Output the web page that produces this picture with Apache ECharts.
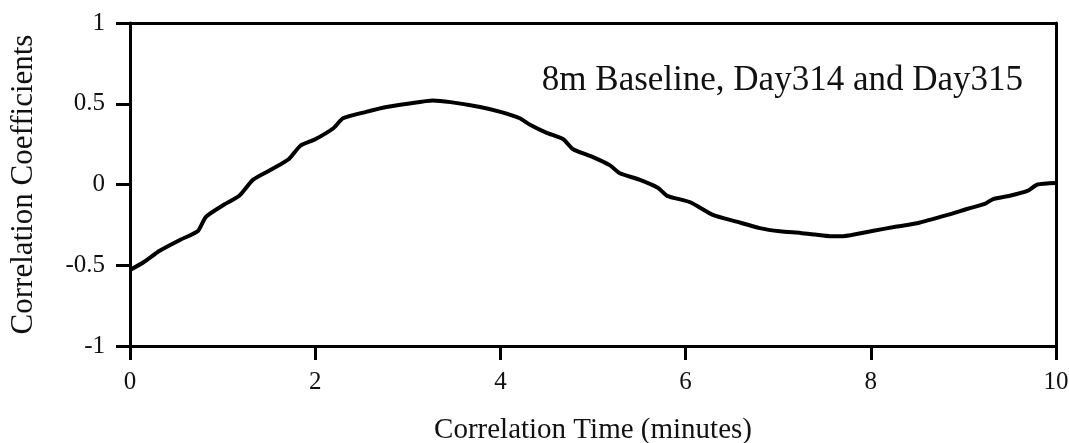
<!DOCTYPE html>
<html>
<head>
<meta charset="utf-8">
<script src="https://cdn.jsdelivr.net/npm/echarts@6/dist/echarts.min.js"></script>
<style>html,body{margin:0;padding:0;background:#fff;}#c{width:1069px;height:443px;}</style>
</head>
<body>
<div id="c"></div>
<script>
const timeMin = [0.00,0.15,0.32,0.55,0.73,0.82,1.00,1.18,1.33,1.55,1.72,1.84,2.00,2.20,2.30,2.55,2.77,3.00,3.27,3.46,3.78,4.00,4.21,4.32,4.50,4.68,4.78,5.00,5.18,5.29,5.50,5.70,5.80,6.05,6.30,6.55,6.80,7.02,7.24,7.40,7.56,7.70,8.00,8.28,8.50,8.82,9.05,9.23,9.32,9.50,9.69,9.80,10.00];
const corrCoef = [-0.53,-0.48,-0.41,-0.34,-0.29,-0.20,-0.13,-0.07,0.03,0.10,0.16,0.24,0.28,0.35,0.41,0.45,0.48,0.50,0.52,0.51,0.48,0.45,0.41,0.37,0.32,0.28,0.22,0.17,0.12,0.07,0.03,-0.02,-0.07,-0.11,-0.19,-0.23,-0.27,-0.29,-0.30,-0.31,-0.32,-0.32,-0.29,-0.26,-0.24,-0.19,-0.15,-0.12,-0.09,-0.07,-0.04,0.00,0.01];
const xTicks = [0,2,4,6,8,10];
const yTicks = [-1,-0.5,0,0.5,1];
const xName = 'Correlation Time (minutes)';
const yName = 'Correlation Coefficients';
const annotation = '8m Baseline, Day314 and Day315';

const serif = '"Liberation Serif", "Times New Roman", serif';
const chart = echarts.init(document.getElementById('c'), null, {renderer:'canvas'});
const fmtY = v => { const r = Math.round(v*10)/10; return yTicks.includes(r) ? String(r) : ''; };
chart.setOption({
  animation:false,
  backgroundColor:'#fff',
  grid:{left:130,right:13,top:23,bottom:97,show:false,containLabel:false,outerBoundsMode:'none'},
  xAxis:[{
    type:'value',min:0,max:10,interval:2,position:'bottom',
    name:xName,nameLocation:'middle',nameGap:70,
    nameTextStyle:{fontFamily:serif,fontSize:29,color:'#111'},
    axisLine:{show:true,onZero:false,lineStyle:{color:'#000',width:3}},
    axisTick:{show:true,inside:false,length:14,lineStyle:{color:'#000',width:3}},
    axisLabel:{margin:24,fontFamily:serif,fontSize:25,color:'#111',formatter:v=>xTicks.includes(v)?String(v):''},
    splitLine:{show:false}
  },{
    type:'value',min:0,max:10,position:'top',
    axisLine:{show:true,onZero:false,lineStyle:{color:'#000',width:3}},
    axisTick:{show:false},axisLabel:{show:false},splitLine:{show:false}
  }],
  yAxis:[{
    type:'value',min:-1,max:1,interval:0.5,position:'left',
    name:yName,nameLocation:'middle',nameGap:91,nameRotate:90,
    nameTextStyle:{fontFamily:serif,fontSize:31,color:'#111'},
    axisLine:{show:true,onZero:false,lineStyle:{color:'#000',width:3}},
    axisTick:{show:true,inside:false,length:14,lineStyle:{color:'#000',width:3}},
    axisLabel:{margin:25,fontFamily:serif,fontSize:25,color:'#111',formatter:fmtY},
    splitLine:{show:false}
  },{
    type:'value',min:-1,max:1,position:'right',
    axisLine:{show:true,onZero:false,lineStyle:{color:'#000',width:3}},
    axisTick:{show:false},axisLabel:{show:false},splitLine:{show:false}
  }],
  graphic:[{
    type:'text',right:46,top:63,
    style:{text:annotation,font:'35px "Liberation Serif", serif',fill:'#111'}
  }],
  series:[{
    type:'line',xAxisIndex:0,yAxisIndex:0,
    data:timeMin.map((t,i)=>[t,corrCoef[i]]),
    showSymbol:false,symbol:'none',smooth:0.2,
    lineStyle:{color:'#000',width:4},
    z:3
  }]
});
</script>
</body>
</html>
